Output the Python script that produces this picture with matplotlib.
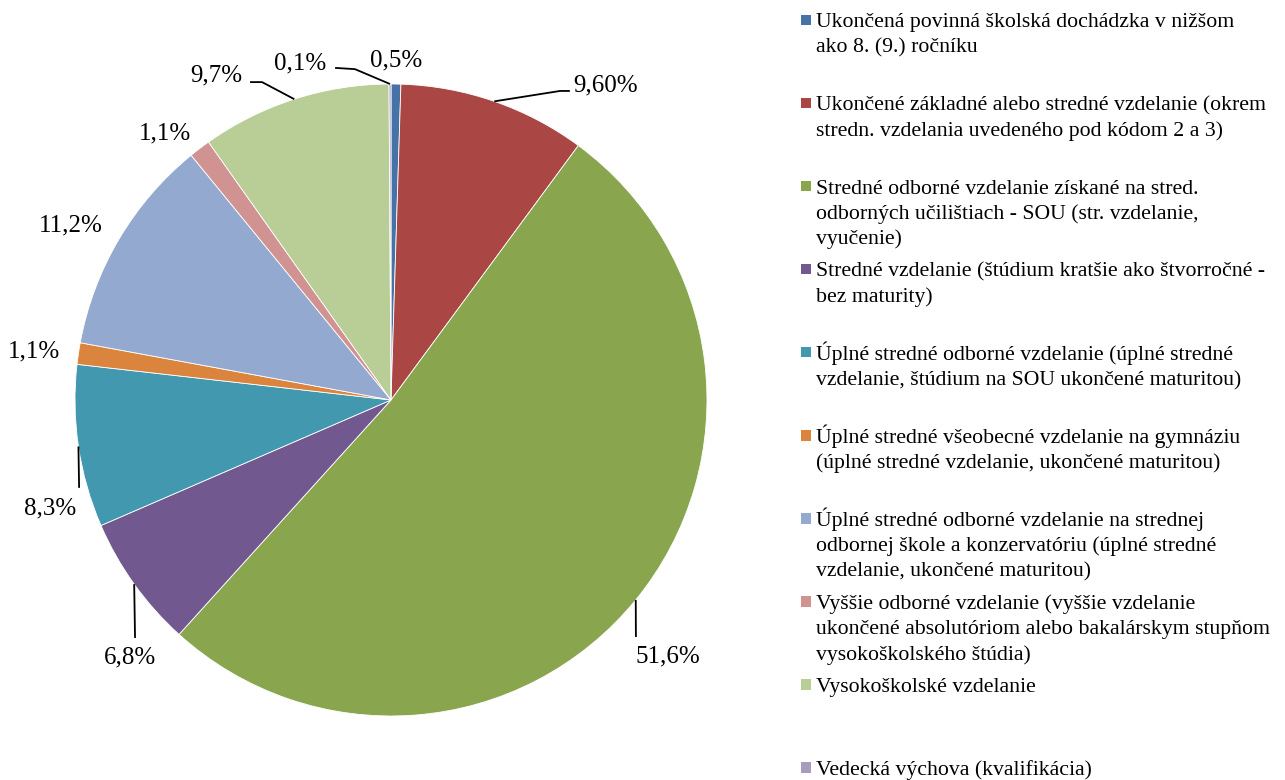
import numpy as np
import matplotlib
matplotlib.use("Agg")
import matplotlib.pyplot as plt
from matplotlib.patches import Rectangle

# ---------------- data ----------------
categories = [
    "Ukončená povinná školská dochádzka v nižšom\nako 8. (9.) ročníku",
    "Ukončené základné alebo stredné vzdelanie (okrem\nstredn. vzdelania uvedeného pod kódom 2 a 3)",
    "Stredné odborné vzdelanie získané na stred.\nodborných učilištiach - SOU (str. vzdelanie,\nvyučenie)",
    "Stredné vzdelanie (štúdium kratšie ako štvorročné -\nbez maturity)",
    "Úplné stredné odborné vzdelanie (úplné stredné\nvzdelanie, štúdium na SOU ukončené maturitou)",
    "Úplné stredné všeobecné vzdelanie na gymnáziu\n(úplné stredné vzdelanie, ukončené maturitou)",
    "Úplné stredné odborné vzdelanie na strednej\nodbornej škole a konzervatóriu (úplné stredné\nvzdelanie, ukončené maturitou)",
    "Vyššie odborné vzdelanie (vyššie vzdelanie\nukončené absolutóriom alebo bakalárskym stupňom\nvysokoškolského štúdia)",
    "Vysokoškolské vzdelanie",
    "Vedecká výchova (kvalifikácia)",
]
values = [0.5, 9.6, 51.6, 6.8, 8.3, 1.1, 11.2, 1.1, 9.7, 0.1]
value_labels = ["0,5%", "9,60%", "51,6%", "6,8%", "8,3%", "1,1%", "11,2%", "1,1%", "9,7%", "0,1%"]

# ---------------- style / layout ----------------
colors = ["#4572A7", "#AA4643", "#89A54E", "#71588F", "#4198AF",
          "#DB843D", "#93A9CF", "#D19392", "#B9CD96", "#A99BBD"]
FONT = "Liberation Serif"

W, H = 1285, 780
fig = plt.figure(figsize=(W / 100, H / 100), dpi=100)

cx, cy, R = 391, 400, 316  # pie centre / radius in pixels (top-origin)
ax = fig.add_axes([(cx - R) / W, (H - cy - R) / H, 2 * R / W, 2 * R / H])

wedges, _ = ax.pie(values, colors=colors, startangle=90, counterclock=False,
                   radius=1.0, wedgeprops=dict(edgecolor="white", linewidth=0.6))
ax.set_xlim(-1, 1)
ax.set_ylim(-1, 1)
ax.set_axis_off()

# label positions (x centre, baseline) in pie-radius units
label_pos = [(0.016, 1.057), (0.680, 0.976), (0.877, -0.831), (-0.826, -0.835),
             (-1.079, -0.361), (-1.130, 0.136), (-1.013, 0.533), (-0.715, 0.823),
             (-0.554, 1.007), (-0.286, 1.047)]
# leader lines: (outer end, elbow) or None
leaders = [None,
           ((0.566, 0.978), (0.535, 0.978)),
           ((0.775, -0.750), (0.775, -0.750)),
           ((-0.810, -0.753), (-0.810, -0.753)),
           ((-0.987, -0.278), (-0.987, -0.278)),
           None, None, None,
           ((-0.446, 1.006), (-0.408, 1.006)),
           ((-0.177, 1.051), (-0.114, 1.047))]

for w, lab, pos, ld in zip(wedges, value_labels, label_pos, leaders):
    ax.text(pos[0], pos[1], lab, ha="center", va="baseline",
            fontsize=18, family=FONT, color="black", clip_on=False)
    if ld is not None:
        mid = np.deg2rad((w.theta1 + w.theta2) / 2)
        ex, ey = w.r * np.cos(mid), w.r * np.sin(mid)
        (sx, sy), (bx, by) = ld
        ax.plot([sx, bx, ex], [sy, by, ey], color="black", lw=1.3,
                clip_on=False, solid_capstyle="butt")

# ---------------- legend ----------------
first_c, step, line_h = 19.8, 83.1, 25.3
mk_x, mk_s, txt_x = 800.7, 10.5, 816
for i, (cat, col) in enumerate(zip(categories, colors)):
    yc = first_c + i * step
    fig.add_artist(Rectangle((mk_x / W, (H - yc - mk_s / 2) / H), mk_s / W, mk_s / H,
                             transform=fig.transFigure, facecolor=col, edgecolor="none"))
    for j, line in enumerate(cat.split("\n")):
        yb = yc + 7.5 + j * line_h
        fig.text(txt_x / W, (H - yb) / H, line, ha="left", va="baseline",
                 fontsize=15.7, family=FONT, color="black")

fig.savefig("out.png", dpi=100, facecolor="white")
